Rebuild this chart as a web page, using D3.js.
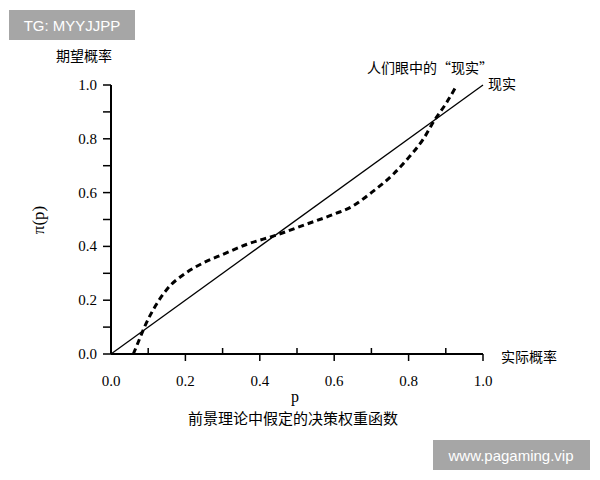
<!DOCTYPE html>
<html><head><meta charset="utf-8">
<script src="https://cdn.jsdelivr.net/npm/d3@7"></script>
<style>body{margin:0;background:#fff}svg{display:block}</style>
</head><body><div id="container"></div>
<script>
"use strict";
var width = 600, height = 480;
var xTicks = [0, 0.2, 0.4, 0.6, 0.8, 1.0];
var yTicks = [0, 0.2, 0.4, 0.6, 0.8, 1.0];
var minorTicks = [0.1, 0.3, 0.5, 0.7, 0.9];
var realityLine = [[0, 0], [1, 1]];
var perceived = [[0.06, 0], [0.075, 0.05], [0.09, 0.1], [0.12, 0.18], [0.15, 0.24], [0.2, 0.3], [0.25, 0.34], [0.3, 0.37], [0.37, 0.41], [0.44, 0.44], [0.52, 0.48], [0.6, 0.52], [0.65, 0.55], [0.7, 0.6], [0.76, 0.67], [0.8, 0.73], [0.84, 0.8], [0.87, 0.87], [0.9, 0.93], [0.93, 1.0]];
var font = "'Liberation Serif', 'DejaVu Serif', serif";
var cjk = "'Noto Sans CJK SC', sans-serif";

var svg = d3.select("#container").append("svg").attr("width", width).attr("height", height);
var x = d3.scaleLinear().domain([0, 1]).range([111, 483]);
var y = d3.scaleLinear().domain([0, 1]).range([354, 85]);

//axes
svg.append("line").attr("x1", x(0)).attr("x2", x(1)).attr("y1", y(0)).attr("y2", y(0)).attr("stroke", "#000").attr("stroke-width", 2);
svg.append("line").attr("x1", x(0)).attr("x2", x(0)).attr("y1", y(0)).attr("y2", y(1)).attr("stroke", "#000").attr("stroke-width", 2);
var allY = yTicks.concat(minorTicks);
svg.selectAll("line.yt").data(allY).enter().append("line").attr("x1", x(0) - 8).attr("x2", x(0))
    .attr("y1", function (d) { return y(d); }).attr("y2", function (d) { return y(d); }).attr("stroke", "#000").attr("stroke-width", 1.5);
svg.selectAll("line.xt").data(xTicks.slice(1)).enter().append("line").attr("y1", y(0)).attr("y2", y(0) + 7)
    .attr("x1", function (d) { return x(d); }).attr("x2", function (d) { return x(d); }).attr("stroke", "#000").attr("stroke-width", 1.5);
svg.selectAll("line.xm").data(minorTicks).enter().append("line").attr("y1", y(0)).attr("y2", y(0) - 6)
    .attr("x1", function (d) { return x(d); }).attr("x2", function (d) { return x(d); }).attr("stroke", "#000").attr("stroke-width", 1.5);
svg.selectAll("text.yl").data(yTicks).enter().append("text").attr("x", x(0) - 14).attr("y", function (d) { return y(d) + 5; })
    .attr("text-anchor", "end").style("font", "15px " + font).text(function (d) { return d.toFixed(1); });
svg.selectAll("text.xl").data(xTicks).enter().append("text").attr("x", function (d) { return x(d); }).attr("y", 386)
    .attr("text-anchor", "middle").style("font", "15px " + font).text(function (d) { return d.toFixed(1); });

//lines
var line = d3.line().x(function (d) { return x(d[0]); }).y(function (d) { return y(d[1]); });
svg.append("path").attr("d", line(realityLine)).attr("fill", "none").attr("stroke", "#000").attr("stroke-width", 1.3);
svg.append("path").attr("d", line.curve(d3.curveMonotoneX)(perceived)).attr("fill", "none").attr("stroke", "#000")
    .attr("stroke-width", 3).attr("stroke-dasharray", "6,4");

//labels
svg.append("text").attr("x", 84).attr("y", 61).attr("text-anchor", "middle").style("font", "14px " + cjk).text("期望概率");
svg.append("text").attr("x", 44).attr("y", 220).attr("text-anchor", "middle").attr("transform", "rotate(-90,44,220)").style("font", "17px " + font).text("π(p)");
svg.append("text").attr("x", 367).attr("y", 73).style("font", "14px " + cjk).text("人们眼中的“现实”");
svg.append("text").attr("x", 488).attr("y", 89).style("font", "14px " + cjk).text("现实");
svg.append("text").attr("x", 501).attr("y", 362).style("font", "14px " + cjk).text("实际概率");
svg.append("text").attr("x", 295).attr("y", 402).attr("text-anchor", "middle").style("font", "16px " + font).text("p");
svg.append("text").attr("x", 293).attr("y", 424).attr("text-anchor", "middle").style("font", "15px " + cjk).text("前景理论中假定的决策权重函数");

//watermarks
svg.append("rect").attr("x", 9).attr("y", 10).attr("width", 126).attr("height", 30).attr("fill", "#a6a6a6");
svg.append("text").attr("x", 72).attr("y", 31).attr("text-anchor", "middle").attr("fill", "#fff").style("font", "15px Arial, 'Liberation Sans', sans-serif").text("TG: MYYJJPP");
svg.append("rect").attr("x", 433).attr("y", 440).attr("width", 157).attr("height", 30).attr("fill", "#a6a6a6");
svg.append("text").attr("x", 511).attr("y", 461).attr("text-anchor", "middle").attr("fill", "#fff").style("font", "15px Arial, 'Liberation Sans', sans-serif").text("www.pagaming.vip");
</script></body></html>
